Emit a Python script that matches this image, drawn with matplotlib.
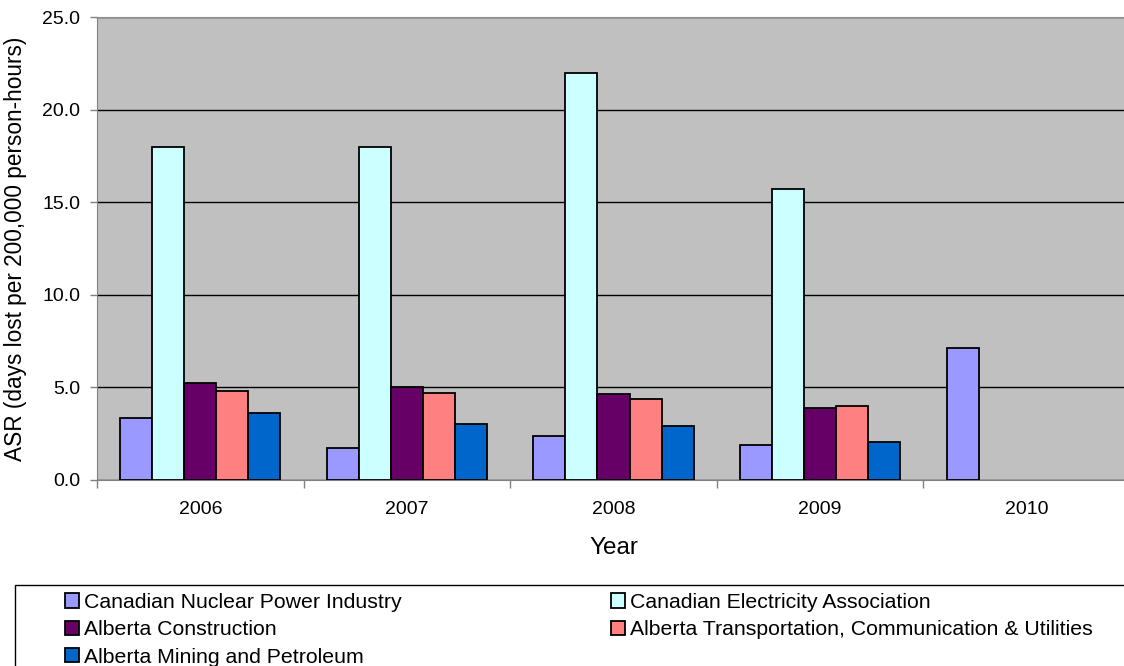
import matplotlib.pyplot as plt
from matplotlib.patches import Rectangle
import numpy as np

plt.rcParams['font.family'] = ['Liberation Sans', 'DejaVu Sans']

years = ['2006', '2007', '2008', '2009', '2010']
series_names = ['Canadian Nuclear Power Industry', 'Canadian Electricity Association',
                'Alberta Construction', 'Alberta Transportation, Communication & Utilities',
                'Alberta Mining and Petroleum']
nuclear = [3.37, 1.74, 2.4, 1.9, 7.12]
cea = [18.0, 18.0, 22.0, 15.7, 0]
construction = [5.22, 5.03, 4.65, 3.9, 0]
transport = [4.82, 4.7, 4.4, 4.0, 0]
mining = [3.62, 3.0, 2.9, 2.03, 0]
colors = ['#9999FF', '#CCFFFF', '#660066', '#FF8080', '#0066CC']

data = [nuclear, cea, construction, transport, mining]

W, H = 1124, 666
fig = plt.figure(figsize=(W / 100, H / 100), dpi=100)
ax = fig.add_axes([97 / W, 1 - 480 / H, 1033 / W, 463 / H])
ax.set_facecolor('#C0C0C0')

x = np.arange(len(years))
w = 0.155
handles = []
for i, (vals, col, name) in enumerate(zip(data, colors, series_names)):
    v = np.array(vals, dtype=float)
    mask = v > 0
    b = ax.bar(x[mask] + (i - 2) * w, v[mask], width=w, color=col, edgecolor='black',
               linewidth=1.3, label=name, zorder=3)
    handles.append(b)

ax.set_xlim(-0.5, 4.5)
ax.set_ylim(0, 25)
yt = np.arange(0, 26, 5)
ax.set_yticks(yt)
ax.set_yticklabels([f'{t:.1f}' for t in yt], fontsize=14)
ax.yaxis.grid(True, color='black', linewidth=1.0, zorder=1)
ax.set_axisbelow(True)

ax.set_xticks(x)
ax.set_xticklabels(years, fontsize=14)
ax.tick_params(axis='x', length=0, pad=15)
ax.set_xticks(np.arange(-0.5, 4.6, 1), minor=True)
ax.tick_params(axis='x', which='minor', length=6, color='#808080', width=1)
ax.tick_params(axis='y', length=5, width=1, color='#808080', pad=7)

ax.spines['right'].set_visible(False)
ax.spines['top'].set_color('#909090')
ax.spines['left'].set_color('#808080')
ax.spines['bottom'].set_color('#808080')

ax.set_xlabel('Year', fontsize=17.5, labelpad=14)
ax.set_ylabel('ASR (days lost per 200,000 person-hours)', fontsize=16.3, labelpad=11)

# legend frame
fig.patches.append(Rectangle((15 / W, -0.05), 1.1, 1 - 585 / H + 0.05, transform=fig.transFigure,
                             facecolor='white', edgecolor='black', linewidth=1.0, zorder=0))

leg_kw = dict(loc='upper left', bbox_transform=fig.transFigure, fontsize=15.3, frameon=False,
              handlelength=0.66, handleheight=0.66, handletextpad=0.22, labelspacing=0.39,
              borderpad=0, borderaxespad=0)
col1 = [0, 2, 4]
col2 = [1, 3]
fig.legend([handles[i] for i in col1], [series_names[i] for i in col1],
           bbox_to_anchor=(65 / W, 1 - 593 / H), **leg_kw)
fig.legend([handles[i] for i in col2], [series_names[i] for i in col2],
           bbox_to_anchor=(611 / W, 1 - 593 / H), **leg_kw)

fig.savefig('out.png', dpi=100)
